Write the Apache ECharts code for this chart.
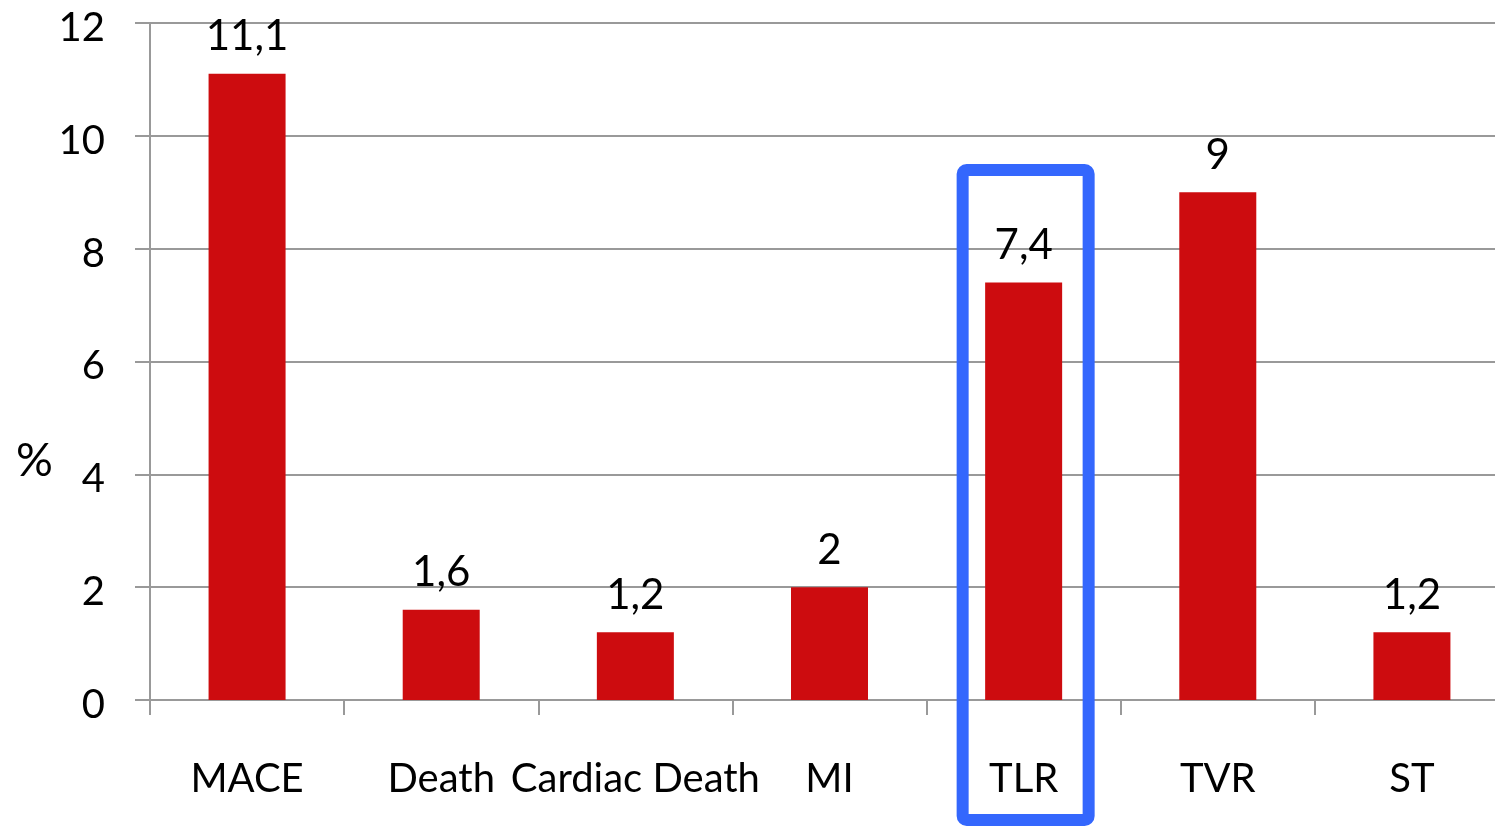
<!DOCTYPE html>
<html>
<head>
<meta charset="utf-8">
<script src="https://cdn.jsdelivr.net/npm/echarts@6/dist/echarts.min.js"></script>
<style>
  html, body { margin: 0; padding: 0; background: #fff; overflow: hidden; }
  /* plot runs a little past the right edge of the window, as in the original */
  #main { width: 1510px; height: 826px; }
</style>
</head>
<body>
<div id="main"></div>
<script>
// categories and values (%)
const categories = ['MACE', 'Death', 'Cardiac Death', 'MI', 'TLR', 'TVR', 'ST'];
const rates = [11.1, 1.6, 1.2, 2, 7.4, 9, 1.2];
const yTicks = [0, 2, 4, 6, 8, 10, 12];
const highlighted = 'TLR';

const font = 'Lato, "Open Sans", sans-serif';
const axisGrey = '#999999';

const chart = echarts.init(document.getElementById('main'), null, {renderer: 'canvas'});

chart.setOption({
    animation: false,
    grid: {left: 150, top: 23, right: 1, height: 677, containLabel: false},
    xAxis: {
        type: 'category',
        data: categories,
        axisLine: {lineStyle: {color: axisGrey, width: 2}},
        axisTick: {show: true, length: 15, alignWithLabel: false, lineStyle: {color: axisGrey, width: 2}},
        axisLabel: {interval: 0, margin: 59, color: '#000', fontFamily: font, fontSize: 40}
    },
    yAxis: {
        type: 'value',
        min: yTicks[0],
        max: yTicks[yTicks.length - 1],
        interval: 2,
        axisLine: {show: true, lineStyle: {color: axisGrey, width: 2}},
        axisTick: {show: true, length: 15, lineStyle: {color: axisGrey, width: 2}},
        axisLabel: {
            margin: 45, color: '#000', fontFamily: font, fontSize: 40,
            // sit the numbers a bit below their grid line
            formatter: v => '{n|' + v + '}',
            rich: {n: {fontFamily: font, fontSize: 40, color: '#000', padding: [10, 0, 0, 0]}}
        },
        splitLine: {lineStyle: {color: axisGrey, width: 2}}
    },
    series: [{
        type: 'bar',
        data: rates,
        barWidth: 77,
        itemStyle: {color: '#cd0c0f'},
        label: {
            show: true,
            position: 'top',
            distance: 16,
            color: '#000',
            fontFamily: font,
            fontSize: 42,
            formatter: p => String(p.value).replace('.', ',')
        }
    }]
});

// blue frame around the highlighted category, placed from the axis scale
const cx = chart.convertToPixel({xAxisIndex: 0}, highlighted);
chart.setOption({
    graphic: [{
        type: 'text',
        left: 16,
        top: 438,
        style: {text: '%', fill: '#000', font: '46px ' + font}
    }, {
        type: 'rect',
        shape: {x: cx - 61, y: 170, width: 126, height: 650, r: 4},
        style: {fill: 'none', stroke: '#3467fd', lineWidth: 12},
        z: 100
    }]
});
</script>
</body>
</html>
